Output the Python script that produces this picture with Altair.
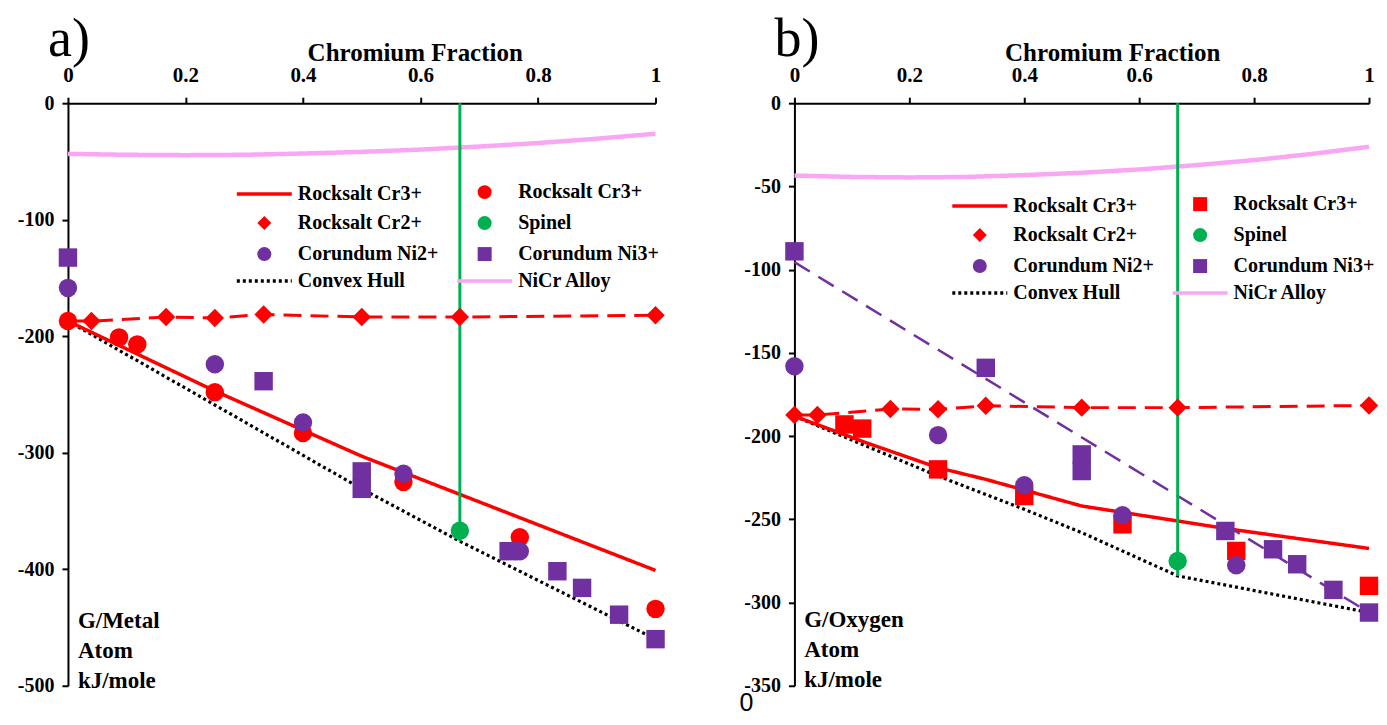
import altair as alt
import pandas as pd

RED = "#FF0000"
PURPLE = "#7030A0"
GREEN = "#00B050"
PINK = "#F9A6F4"
SERIF = "Liberation Serif"

# ---------------- data ----------------
X_TICKS = [0, 0.2, 0.4, 0.6, 0.8, 1]
A_Y_TICKS = [0, -100, -200, -300, -400, -500]
B_Y_TICKS = [0, -50, -100, -150, -200, -250, -300, -350]

NICR_X = [0, 0.1, 0.2, 0.3, 0.4, 0.5, 0.6, 0.7, 0.8, 0.9, 1.0]
NICR_Y = [-43.5, -44.3, -44.6, -44.3, -43.2, -41.8, -39.8, -37.2, -34.2, -30.5, -26.2]

CR2_X = [0, 0.04, 0.167, 0.25, 0.333, 0.5, 0.667, 1.0]
A_CR2_Y = [-187, -187, -183.5, -184.4, -181.3, -183.5, -183.5, -182]
B_CR2_Y = [-187.3, -187.3, -183.7, -183.9, -181.8, -182.9, -182.9, -181.6]

A_RS3L_X = [0, 0.25, 0.5, 0.75, 1.0]
A_RS3L_Y = [-187, -247, -303, -352, -401]
B_RS3L_X = [0, 0.125, 0.25, 0.333, 0.5, 0.667, 0.75, 1.0]
B_RS3L_Y = [-188, -204, -219, -226, -242, -251, -255.5, -267.5]

A_RS3P_X = [0, 0.087, 0.118, 0.25, 0.4, 0.571, 0.769, 1.0]
A_RS3P_Y = [-187, -201, -207, -248, -283, -325, -372.5, -434]
B_RS3P_X = [0.087, 0.118, 0.25, 0.4, 0.571, 0.769, 1.0]
B_RS3P_Y = [-193, -195.5, -220, -236, -253, -269, -290]

NI2_X = [0, 0.25, 0.4, 0.571, 0.769]
A_NI2_Y = [-158.5, -224, -274, -318, -384.5]
B_NI2_Y = [-158, -199.4, -229.5, -247.5, -277.6]

NI3_X = [0, 0.333, 0.5, 0.5, 0.75, 0.833, 0.875, 0.938, 1.0]
A_NI3_Y = [-132.5, -238.6, -316, -331, -384.5, -401.7, -416, -439, -460]
B_NI3_Y = [-89, -159, -211, -221, -257, -268, -277, -292.4, -306]

B_NI3FIT_X = [0, 1]
B_NI3FIT_Y = [-95.5, -306]

SPINEL_X = [0.667]
A_SPINEL_Y = [-367]
B_SPINEL_Y = [-275]

A_HULL_X = [0, 0.5, 0.667, 1.0]
A_HULL_Y = [-187, -331, -376, -460]
B_HULL_X = [0, 0.25, 0.4, 0.5, 0.667, 1.0]
B_HULL_Y = [-188, -224, -244, -258, -284, -306]

A_LABEL = "G/Metal\nAtom\nkJ/mole"
B_LABEL = "G/Oxygen\nAtom\nkJ/mole"

# ---------------- legend scales ----------------
K_FIT = "Rocksalt Cr3+ (fit)"
DOMAIN = [K_FIT, "Rocksalt Cr2+", "Corundum Ni2+", "Convex Hull",
          "Rocksalt Cr3+", "Spinel", "Corundum Ni3+", "NiCr Alloy"]
LINE_PATH = "M-3.93,0L3.93,0"
FILL_RANGE = [RED, RED, PURPLE, "transparent", RED, GREEN, PURPLE, "transparent"]
STROKE_RANGE = [RED, "transparent", "transparent", "black", "transparent", "transparent", "transparent", PINK]
DASH_RANGE = [[1, 0], [1, 0], [1, 0], [3, 3], [1, 0], [1, 0], [1, 0], [1, 0]]
SHAPE_A = [LINE_PATH, "diamond", "circle", LINE_PATH, "circle", "circle", "square", LINE_PATH]
SHAPE_B = [LINE_PATH, "diamond", "circle", LINE_PATH, "square", "circle", "square", LINE_PATH]


def frame(key, xs, ys):
    return pd.DataFrame({"key": key, "x": xs, "y": ys})


def make_panel(tag, W, ydom, yticks, cr2_y, rs3l, rs3p, ni2_y, ni3_y, spinel_y, hull,
               shape_range, legend_xy, title_x, label_text, label_y, ni3fit=None, extra0=False):
    H = 583
    leg = alt.Legend(
        orient="none", legendX=legend_xy[0], legendY=legend_xy[1], direction="vertical",
        columns=2, title=None, labelFont=SERIF, labelFontWeight="bold", labelFontSize=20,
        labelColor="black", symbolSize=196, symbolStrokeWidth=3.5, symbolFillColor="transparent",
        symbolOpacity=1, labelOffset=23.5, columnPadding=10.5, rowPadding=3,
        labelLimit=300,
        labelExpr=f"datum.label == '{K_FIT}' ? 'Rocksalt Cr3+' : datum.label",
    )
    xaxis = alt.Axis(
        orient="top", values=X_TICKS, labelExpr="'' + datum.value", grid=False,
        domainColor="black", domainWidth=2, tickColor="black", tickWidth=2, tickSize=6,
        labelFont=SERIF, labelFontWeight="bold", labelFontSize=21, labelColor="black",
        labelPadding=12, title="Chromium Fraction", titleFont=SERIF, titleFontWeight="bold",
        titleFontSize=25, titleColor="black", titleX=title_x, titlePadding=-1,
        labelFlush=False,
    )
    yaxis = alt.Axis(
        values=yticks, labelExpr="'' + datum.value", grid=False, title=None,
        domainColor="black", domainWidth=2, tickColor="black", tickWidth=2, tickSize=6,
        labelFont=SERIF, labelFontWeight="bold", labelFontSize=20, labelColor="black",
        labelPadding=8, minExtent=55, maxExtent=55,
    )
    X = alt.X("x:Q", scale=alt.Scale(domain=[0, 1], nice=False, zero=False), axis=xaxis)
    Y = alt.Y("y:Q", scale=alt.Scale(domain=ydom, nice=False, zero=False), axis=yaxis)
    stroke = alt.Stroke("key:N", scale=alt.Scale(domain=DOMAIN, range=STROKE_RANGE), legend=leg)
    dash = alt.StrokeDash("key:N", scale=alt.Scale(domain=DOMAIN, range=DASH_RANGE), legend=leg)
    fill = alt.Fill("key:N", scale=alt.Scale(domain=DOMAIN, range=FILL_RANGE), legend=leg)
    shape = alt.Shape("key:N", scale=alt.Scale(domain=DOMAIN, range=shape_range), legend=leg)

    nicr = alt.Chart(frame("NiCr Alloy", NICR_X, NICR_Y)).mark_line(strokeWidth=4.5).encode(
        x=X, y=Y, stroke=stroke, strokeDash=dash)
    hull_l = alt.Chart(frame("Convex Hull", hull[0], hull[1])).mark_line(strokeWidth=3.2).encode(
        x=X, y=Y, stroke=stroke, strokeDash=dash)
    fit = alt.Chart(frame(K_FIT, rs3l[0], rs3l[1])).mark_line(strokeWidth=3.5).encode(
        x=X, y=Y, stroke=stroke, strokeDash=dash)
    cr2_line = alt.Chart(frame("cr2", CR2_X, cr2_y)).mark_line(
        color=RED, strokeWidth=3, strokeDash=[18, 9]).encode(x=X, y=Y)
    layers = [nicr, hull_l, fit, cr2_line]
    if ni3fit is not None:
        layers.append(alt.Chart(frame("ni3fit", ni3fit[0], ni3fit[1])).mark_line(
            color=PURPLE, strokeWidth=2.5, strokeDash=[18, 10]).encode(x=X, y=Y))
    rule_df = pd.DataFrame({"x": SPINEL_X, "y": [0], "y2": [hull[1][hull[0].index(SPINEL_X[0])]]})
    layers.append(alt.Chart(rule_df).mark_rule(color=GREEN, strokeWidth=3).encode(
        x=X, y=Y, y2="y2:Q"))

    pts = pd.concat([
        frame("Rocksalt Cr3+", rs3p[0], rs3p[1]),
        frame("Rocksalt Cr2+", CR2_X, cr2_y),
        frame("Corundum Ni2+", NI2_X, ni2_y),
        frame("Corundum Ni3+", NI3_X, ni3_y),
        frame("Spinel", SPINEL_X, spinel_y),
    ], ignore_index=True)
    layers.append(alt.Chart(pts).mark_point(filled=True, opacity=1, size=340, strokeWidth=0).encode(
        x=X, y=Y, fill=fill, shape=shape))

    ann = pd.DataFrame({"x": [0.017], "y": [label_y], "t": [label_text]})
    layers.append(alt.Chart(ann).mark_text(
        align="left", baseline="middle", lineBreak="\n", lineHeight=30, font=SERIF,
        fontWeight="bold", fontSize=23, color="black").encode(x=X, y=Y, text="t:N"))
    if extra0:
        layers.append(alt.Chart(pd.DataFrame({"t": ["0"]})).mark_text(
            font="Liberation Sans", fontSize=25, color="black", align="center", baseline="middle"
        ).encode(x=alt.value(-48), y=alt.value(H + 17), text="t:N"))

    return alt.layer(*layers).properties(
        width=W, height=H,
        title=alt.TitleParams(tag, anchor="start", frame="group", font=SERIF, fontSize=54,
                              fontWeight="normal", color="black", dx=-20, dy=31),
    )


pa = make_panel("a)", 588, [-500, 0], A_Y_TICKS, A_CR2_Y, (A_RS3L_X, A_RS3L_Y),
                (A_RS3P_X, A_RS3P_Y), A_NI2_Y, A_NI3_Y, A_SPINEL_Y, (A_HULL_X, A_HULL_Y),
                SHAPE_A, (186.5, 79), 347, A_LABEL, -444.2)
pb = make_panel("b)", 575, [-350, 0], B_Y_TICKS, B_CR2_Y, (B_RS3L_X, B_RS3L_Y),
                (B_RS3P_X, B_RS3P_Y), B_NI2_Y, B_NI3_Y, B_SPINEL_Y, (B_HULL_X, B_HULL_Y),
                SHAPE_B, (175.5, 91), 318, B_LABEL, -310.3,
                ni3fit=(B_NI3FIT_X, B_NI3FIT_Y), extra0=True)

chart = alt.hconcat(pa, pb, spacing=139, bounds="flush").resolve_scale(
    x="independent", y="independent", fill="independent", stroke="independent",
    shape="independent", strokeDash="independent",
).properties(
    padding={"left": 5, "top": 5, "right": 0, "bottom": 0},
    background="white",
).configure_view(stroke=None)

chart.save("out.html", embed_options={"renderer": "svg", "actions": False})
